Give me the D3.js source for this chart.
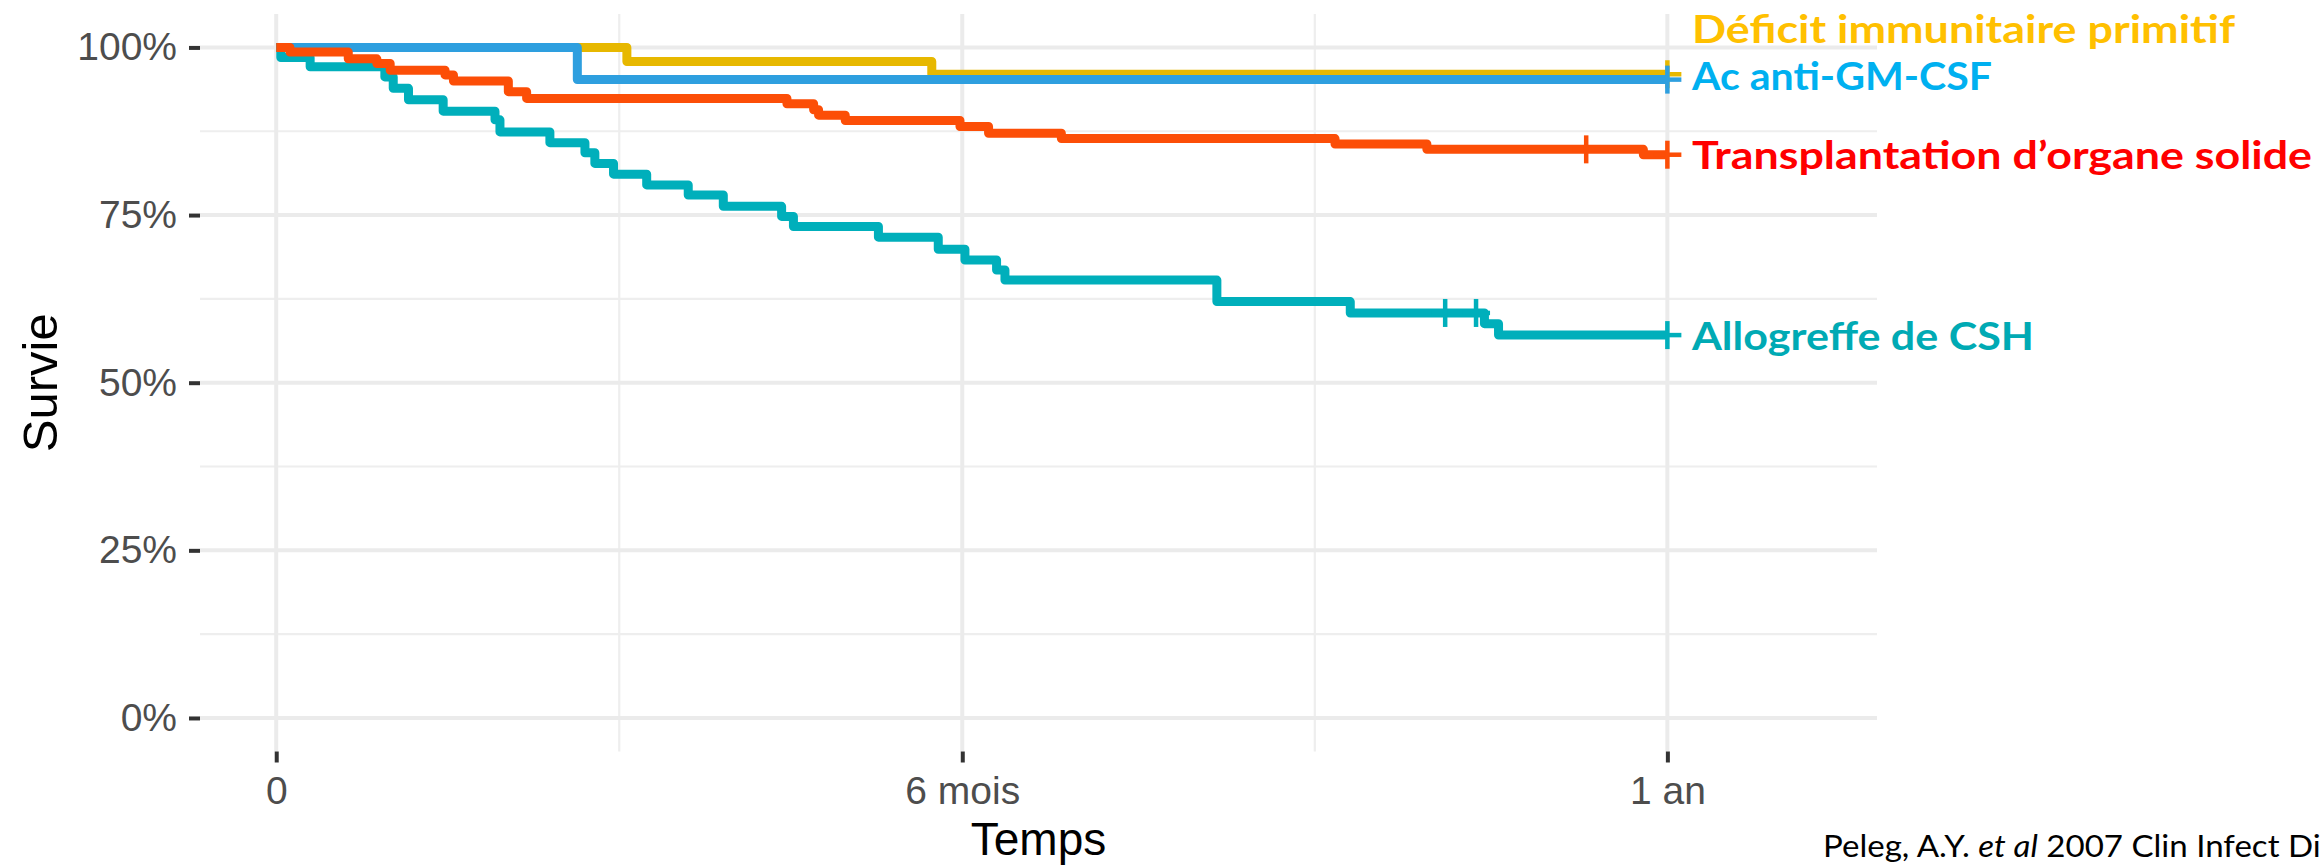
<!DOCTYPE html>
<html>
<head>
<meta charset="utf-8">
<script src="https://d3js.org/d3.v7.min.js"></script>
<style>
  body { margin: 0; background: #fff; }
  .tickLabel { font-family: "Liberation Sans", Arial, sans-serif; fill: #4d4d4d; }
</style>
</head>
<body>
<div id="chart"></div>
<script>
// Kaplan-Meier steps (time in days, survival as fraction)
var defTimes = [0, 92, 172];
var defSurv = [1, 0.979, 0.960];
var defCensor = [365];

var gmTimes = [0, 79];
var gmSurv = [1, 0.952];
var gmCensor = [365];

var tosTimes = [0, 3.6, 18.9, 26.4, 29.9, 44.3, 46.5, 60.9, 65.7, 134, 141, 142.3,
  149.3, 179.4, 186.9, 206, 277.8, 301.9, 358.7];
var tosSurv = [1, 0.993, 0.983, 0.976, 0.966, 0.959, 0.950, 0.934, 0.924, 0.916, 0.907, 0.899,
  0.891, 0.882, 0.872, 0.864, 0.856, 0.848, 0.840];
var tosCensor = [343.7, 365];

var cshTimes = [0, 1.2, 8.9, 28.5, 30.7, 34.7, 43.8, 57.4, 58.7, 71.8, 81, 83.6, 88.5, 97.2,
  108.1, 117.3, 132.6, 135.7, 158, 173.7, 180.7, 189, 191.2, 246.8, 281.8, 317, 320.7];
var cshSurv = [1, 0.985, 0.971, 0.956, 0.939, 0.922, 0.905, 0.892, 0.874, 0.858, 0.843, 0.827,
  0.811, 0.795, 0.780, 0.763, 0.748, 0.733, 0.717, 0.699, 0.683, 0.668, 0.653, 0.621, 0.604,
  0.588, 0.571];
var cshCensor = [306.7, 314.8, 365];

var endTime = 365;

var xTickValues = [0, 180, 365];
var xTickLabels = ["0", "6 mois", "1 an"];
var xMinorValues = [90, 272.5];
var yTickValues = [0, 0.25, 0.5, 0.75, 1];
var yMinorValues = [0.125, 0.375, 0.625, 0.875];

var labelNames = ["Déficit immunitaire primitif", "Ac anti-GM-CSF",
  "Transplantation d\u2019organe solide", "Allogreffe de CSH"];

// svg size and panel edges
var svgWidth = 2321;
var svgHeight = 868;
var panelLeft = 200;
var panelRight = 1877;
var panelTop = 13.9;
var panelBottom = 751.5;

var svg = d3.select("#chart")
  .append("svg")
  .attr("width", svgWidth)
  .attr("height", svgHeight)
  .style("display", "block");

var xScale = d3.scaleLinear()
  .domain([-20, 420])
  .range([panelLeft, panelRight]);

var yScale = d3.scaleLinear()
  .domain([-0.05, 1.05])
  .range([panelBottom, panelTop]);

// Grid lines: minor first, then major
var grid = svg.append("g");

grid.selectAll(".hMinor")
  .data(yMinorValues)
  .enter()
  .append("line")
  .attr("x1", panelLeft).attr("x2", panelRight)
  .attr("y1", d => yScale(d)).attr("y2", d => yScale(d))
  .attr("stroke", "#eeeeee")
  .attr("stroke-width", 2.2);

grid.selectAll(".vMinor")
  .data(xMinorValues)
  .enter()
  .append("line")
  .attr("y1", panelTop).attr("y2", panelBottom)
  .attr("x1", d => xScale(d)).attr("x2", d => xScale(d))
  .attr("stroke", "#eeeeee")
  .attr("stroke-width", 2.2);

grid.selectAll(".hMajor")
  .data(yTickValues)
  .enter()
  .append("line")
  .attr("x1", panelLeft).attr("x2", panelRight)
  .attr("y1", d => yScale(d)).attr("y2", d => yScale(d))
  .attr("stroke", "#ebebeb")
  .attr("stroke-width", 4);

grid.selectAll(".vMajor")
  .data(xTickValues)
  .enter()
  .append("line")
  .attr("y1", panelTop).attr("y2", panelBottom)
  .attr("x1", d => xScale(d)).attr("x2", d => xScale(d))
  .attr("stroke", "#ebebeb")
  .attr("stroke-width", 4);

// Axes
var yAxis = d3.axisLeft(yScale)
  .tickValues(yTickValues)
  .tickFormat(d3.format(".0%"))
  .tickSize(11)
  .tickPadding(12);

var yAxisGroup = svg.append("g")
  .attr("transform", "translate(" + panelLeft + ",0)")
  .call(yAxis);

var xAxis = d3.axisBottom(xScale)
  .tickValues(xTickValues)
  .tickFormat((d, i) => xTickLabels[i])
  .tickSize(11)
  .tickPadding(14);

var xAxisGroup = svg.append("g")
  .attr("transform", "translate(0," + panelBottom + ")")
  .call(xAxis);

[yAxisGroup, xAxisGroup].forEach(function(g) {
  g.select(".domain").remove();
  g.selectAll(".tick line")
    .attr("stroke", "#333333")
    .attr("stroke-width", 4);
  g.selectAll(".tick text")
    .attr("class", "tickLabel")
    .attr("font-size", 39)
    .attr("fill", "#4d4d4d");
});

// Axis titles
svg.append("text")
  .attr("x", (panelLeft + panelRight) / 2)
  .attr("y", 855)
  .attr("text-anchor", "middle")
  .attr("font-family", "Liberation Sans, Arial, sans-serif")
  .attr("font-size", 46)
  .attr("fill", "#000")
  .text("Temps");

svg.append("text")
  .attr("transform", "translate(57," + ((panelTop + panelBottom) / 2) + ")rotate(-90)")
  .attr("text-anchor", "middle")
  .attr("font-family", "Liberation Sans, Arial, sans-serif")
  .attr("font-size", 49)
  .attr("fill", "#000")
  .text("Survie");

// Survival curves
var series = [
  { times: defTimes, surv: defSurv, censor: defCensor, color: "#E7B800" },
  { times: gmTimes, surv: gmSurv, censor: gmCensor, color: "#2E9FDF" },
  { times: cshTimes, surv: cshSurv, censor: cshCensor, color: "#00AFBB" },
  { times: tosTimes, surv: tosSurv, censor: tosCensor, color: "#FC4E07" }
];

var stepLine = d3.line()
  .x(d => xScale(d[0]))
  .y(d => yScale(d[1]))
  .curve(d3.curveStepAfter);

// value of a step curve at time t
function survAt(s, t) {
  var v = s.surv[0];
  s.times.forEach(function(tt, i) {
    if (tt <= t) v = s.surv[i];
  });
  return v;
}

series.forEach(function(s) {
  var pts = s.times.map((t, i) => [t, s.surv[i]]);
  pts.push([endTime, s.surv[s.surv.length - 1]]);

  svg.append("path")
    .datum(pts)
    .attr("d", stepLine)
    .attr("fill", "none")
    .attr("stroke", s.color)
    .attr("stroke-width", 9)
    .attr("stroke-linejoin", "round");

  // censor marks "+"
  var marks = svg.append("g").selectAll("g")
    .data(s.censor)
    .enter()
    .append("g")
    .attr("transform", d => "translate(" + xScale(d) + "," + yScale(survAt(s, d)) + ")");
  marks.append("line")
    .attr("x1", -14).attr("x2", 14).attr("y1", 0).attr("y2", 0)
    .attr("stroke", s.color).attr("stroke-width", 4.5);
  marks.append("line")
    .attr("x1", 0).attr("x2", 0).attr("y1", -14).attr("y2", 14)
    .attr("stroke", s.color).attr("stroke-width", 4.5);
});

// Right hand labels
var labelColors = ["#FFC000", "#00B0F0", "#FF0000", "#00AAB4"];
var labelBaselines = [43, 90, 169, 350];
var labelWidths = [543, 300, 620, 342];

svg.append("g").selectAll("text")
  .data(labelNames)
  .enter()
  .append("text")
  .attr("x", 1692)
  .attr("y", (d, i) => labelBaselines[i])
  .attr("font-family", "Lato, 'Open Sans', sans-serif")
  .attr("font-weight", "bold")
  .attr("font-size", 39)
  .attr("fill", (d, i) => labelColors[i])
  .attr("textLength", (d, i) => labelWidths[i])
  .attr("lengthAdjust", "spacingAndGlyphs")
  .text(d => d);

// Reference
var ref = svg.append("text")
  .attr("x", 1823)
  .attr("y", 857)
  .attr("font-family", "Lato, sans-serif")
  .attr("font-size", 30)
  .attr("fill", "#000")
  .attr("textLength", 512)
  .attr("lengthAdjust", "spacingAndGlyphs");
ref.append("tspan").text("Peleg, A.Y. ");
ref.append("tspan").attr("font-style", "italic").text("et al");
ref.append("tspan").text(" 2007 Clin Infect Dis");
</script>
</body>
</html>
